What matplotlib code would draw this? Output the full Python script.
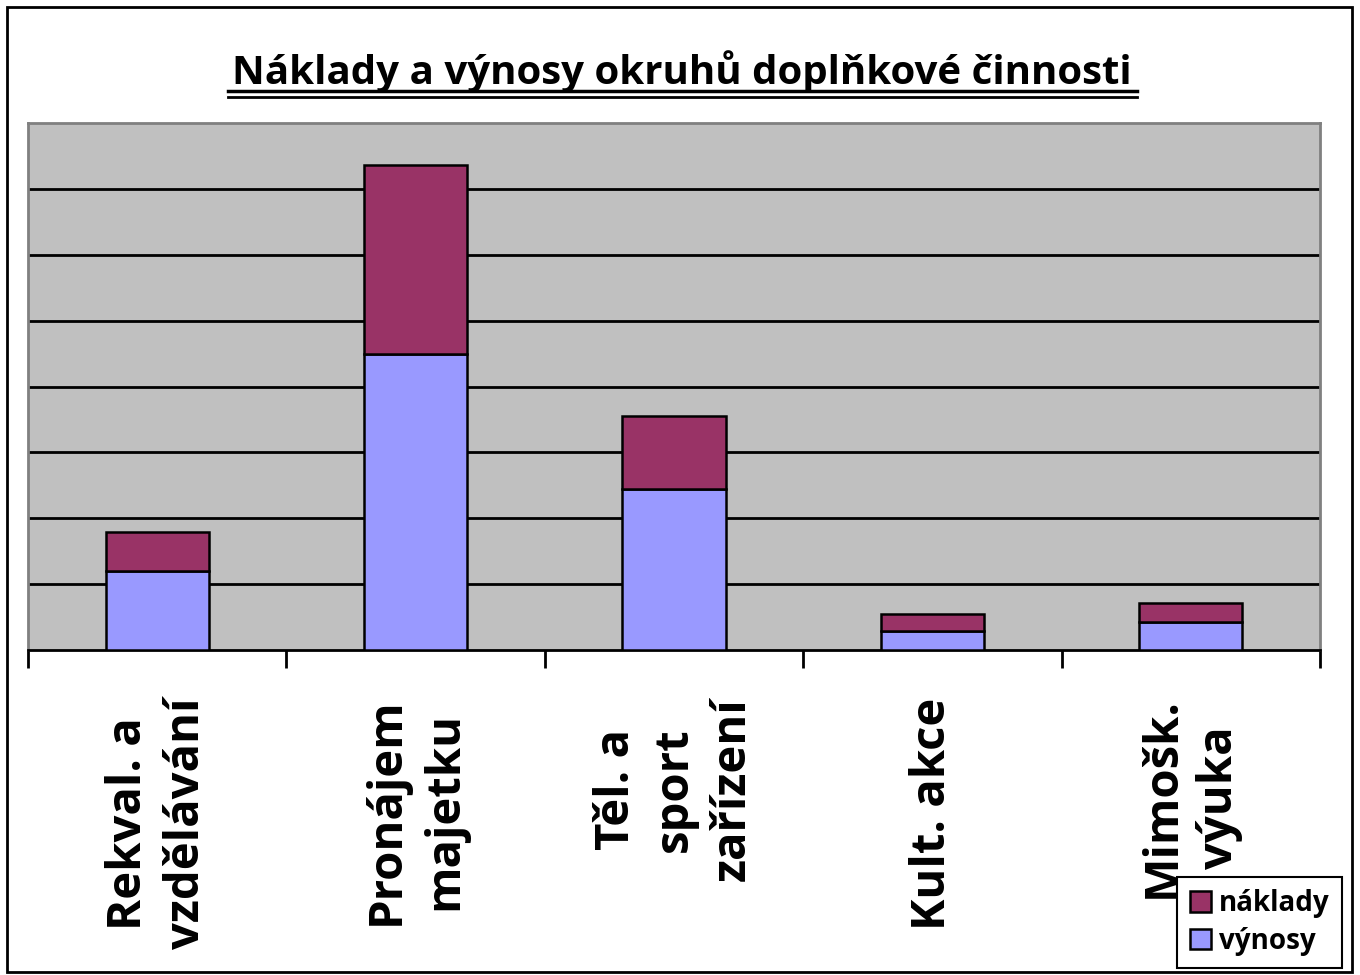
import matplotlib.pyplot as plt
from matplotlib.patches import Rectangle
from matplotlib.lines import Line2D
import numpy as np

categories = ["Rekval. a\nvzdělávání", "Pronájem\nmajetku", "Těl. a\nsport\nzařízení", "Kult. akce", "Mimošk.\nvýuka"]
vynosy = [1.2, 4.49, 2.44, 0.29, 0.42]
naklady = [0.59, 2.88, 1.11, 0.26, 0.29]

plt.rcParams['font.family'] = ['Open Sans', 'DejaVu Sans']

fig = plt.figure(figsize=(13.6, 9.75), dpi=100)
W, H = 1360, 975

# outer border
fig.patches.append(Rectangle((7 / W, 1 - 972 / H), 1345 / W, 965 / H, transform=fig.transFigure,
                             fill=False, edgecolor="black", linewidth=2))

ax = fig.add_axes([28 / W, 1 - 650 / H, 1292 / W, 527 / H])
ax.set_facecolor("#C0C0C0")

x = np.arange(len(categories)) + 0.5
ax.bar(x, vynosy, width=0.4, color="#9999FF", edgecolor="black", linewidth=1.8, label="výnosy", zorder=3)
ax.bar(x, naklady, width=0.4, bottom=vynosy, color="#993366", edgecolor="black", linewidth=1.8,
       label="náklady", zorder=3)

ax.set_xlim(0, len(categories))
ax.set_ylim(0, 8)
ax.set_yticks(np.arange(1, 8))
ax.yaxis.grid(True, color="black", linewidth=2)
ax.tick_params(axis="y", length=0, labelleft=False)
ax.set_xticks(np.arange(len(categories) + 1))
ax.tick_params(axis="x", direction="out", length=13, width=2, color="black", labelbottom=False)
for s in ["top", "left", "right"]:
    ax.spines[s].set_color("#808080")
    ax.spines[s].set_linewidth(2)
ax.spines["bottom"].set_color("black")
ax.spines["bottom"].set_linewidth(2)
ax.set_axisbelow(True)

# category labels, drawn above the legend
for xi, lab in zip(x, categories):
    ax.text(xi, -0.72, lab, rotation=90, ha="center", va="top", multialignment="center",
            fontsize=34, fontweight="bold", linespacing=1.3, clip_on=False, zorder=10)

# title with double underline
fig.text(682 / W, 1 - 72 / H, "Náklady a výnosy okruhů doplňkové činnosti", ha="center", va="center",
         fontsize=29, fontweight="bold")
fig.lines.append(Line2D([228 / W, 1137 / W], [1 - 91 / H, 1 - 91 / H], transform=fig.transFigure,
                        color="black", linewidth=2.5))
fig.lines.append(Line2D([228 / W, 1137 / W], [1 - 97 / H, 1 - 97 / H], transform=fig.transFigure,
                        color="black", linewidth=2.0))

handles, labels = ax.get_legend_handles_labels()
leg = ax.legend(handles[::-1], labels[::-1], loc="lower right", bbox_to_anchor=(1342 / W, 1 - 968 / H),
                bbox_transform=fig.transFigure, frameon=True, fancybox=False, edgecolor="black",
                framealpha=1, prop={"weight": "bold", "size": 20},
                handlelength=0.75, handleheight=0.75, handletextpad=0.3, borderpad=0.45, labelspacing=0.3,
                borderaxespad=0)
leg.get_frame().set_linewidth(1.5)
leg.set_zorder(5)

fig.savefig("out.png", dpi=100)
